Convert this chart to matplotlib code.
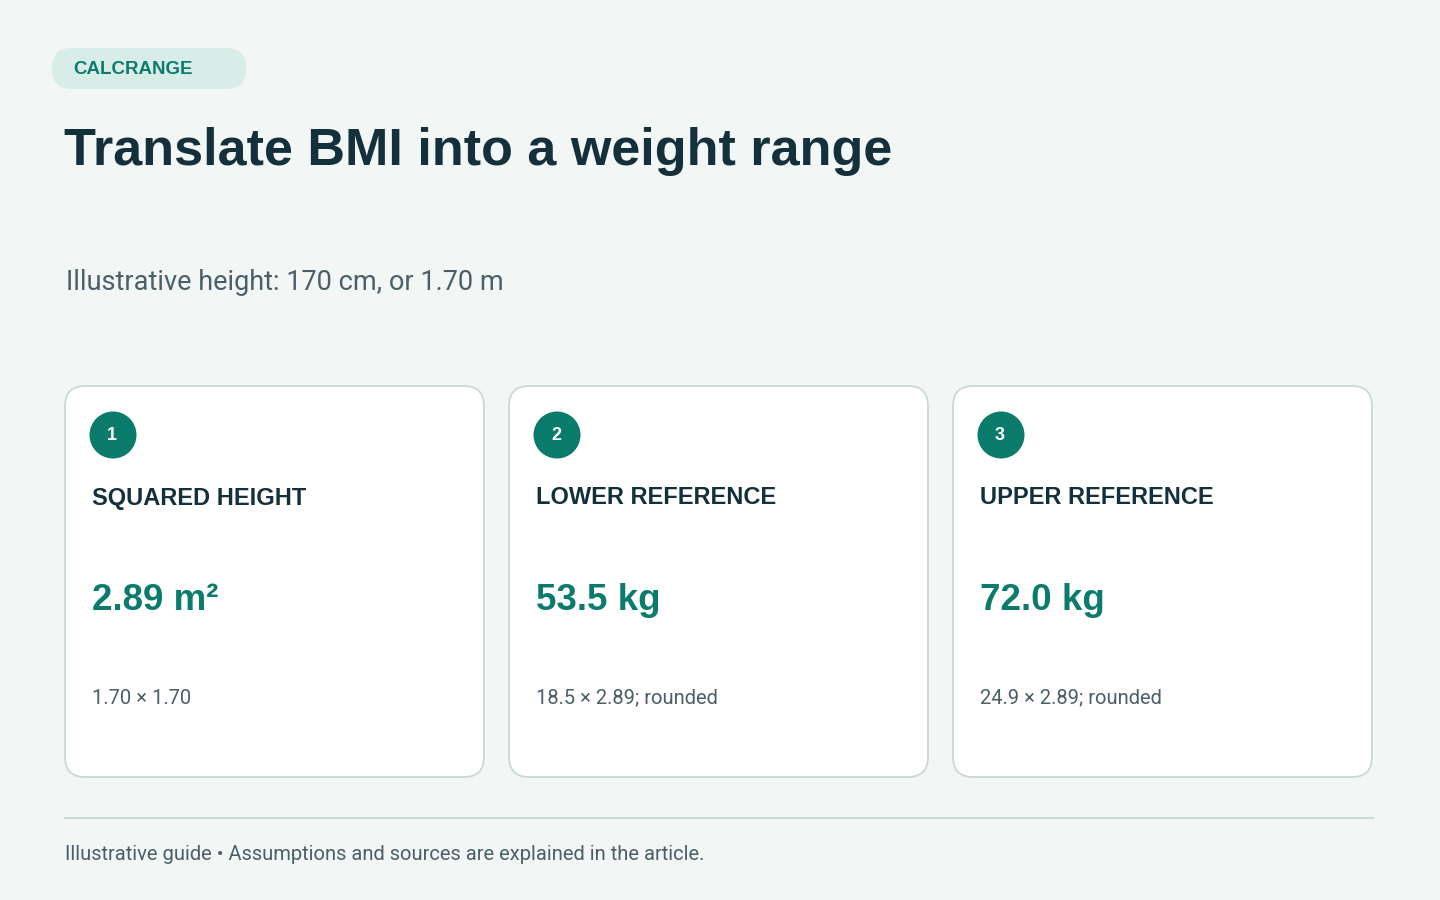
import matplotlib
matplotlib.use("Agg")
import matplotlib.pyplot as plt
from matplotlib.patches import FancyBboxPatch, Circle

BG = "#F2F6F5"
TEAL = "#0B7B6B"
DARK = "#14303A"
GREY = "#4A5F66"

steps = ["1", "2", "3"]
headings = ["SQUARED HEIGHT", "LOWER REFERENCE", "UPPER REFERENCE"]
values = ["2.89 m²", "53.5 kg", "72.0 kg"]
notes = ["1.70 × 1.70", "18.5 × 2.89; rounded", "24.9 × 2.89; rounded"]

fig = plt.figure(figsize=(14.4, 9), dpi=100, facecolor=BG)
ax = fig.add_axes([0, 0, 1, 1])
ax.set_xlim(0, 1440)
ax.set_ylim(900, 0)
ax.axis("off")
ax.set_facecolor(BG)

SANS = ["Liberation Sans", "DejaVu Sans"]
ROB = ["Roboto", "DejaVu Sans"]

# badge
ax.add_patch(FancyBboxPatch((72, 48), 154, 41, boxstyle="round,pad=0,rounding_size=20.5",
                            fc="#D9EDE8", ec="none", mutation_aspect=1))
ax.add_patch(FancyBboxPatch((52, 48), 194, 41, boxstyle="round,pad=0,rounding_size=20",
                            fc="#D9EDE8", ec="none"))
ax.text(73, 69, "CALCRANGE", fontsize=13.5, fontweight="bold", color=TEAL,
        family=SANS, va="center", ha="left")

ax.text(64, 151, "Translate BMI into a weight range", fontsize=37.5, fontweight="bold",
        color=DARK, family=SANS, va="center", ha="left")
ax.text(66, 282, "Illustrative height: 170 cm, or 1.70 m", fontsize=19.5,
        color=GREY, family=ROB, va="center", ha="left")

x0s = [65, 509, 953]
for x0, s, h, v, n in zip(x0s, steps, headings, values, notes):
    ax.add_patch(FancyBboxPatch((x0, 386), 419, 391, boxstyle="round,pad=0,rounding_size=20",
                                fc="white", ec="#CBD8D5", lw=1.3))
    ax.add_patch(Circle((x0 + 48, 435), 23.5, fc=TEAL, ec="none"))
    ax.text(x0 + 47, 436, s, fontsize=13, fontweight="bold", color="white",
            family=SANS, ha="center", va="center")
    ax.text(x0 + 27, 498, h, fontsize=17, fontweight="bold", color=DARK,
            family=SANS, ha="left", va="center")
    ax.text(x0 + 27, 601, v, fontsize=26.5, fontweight="bold", color=TEAL,
            family=SANS, ha="left", va="center")
    ax.text(x0 + 27, 698, n, fontsize=14.5, color=GREY, family=ROB,
            ha="left", va="center")

ax.plot([65, 1373], [818, 818], color="#C9D9D5", lw=1.5)
ax.text(65, 855, "Illustrative guide • Assumptions and sources are explained in the article.",
        fontsize=14.5, color=GREY, family=ROB, ha="left", va="center")

fig.savefig("out.png", dpi=100, facecolor=BG)
